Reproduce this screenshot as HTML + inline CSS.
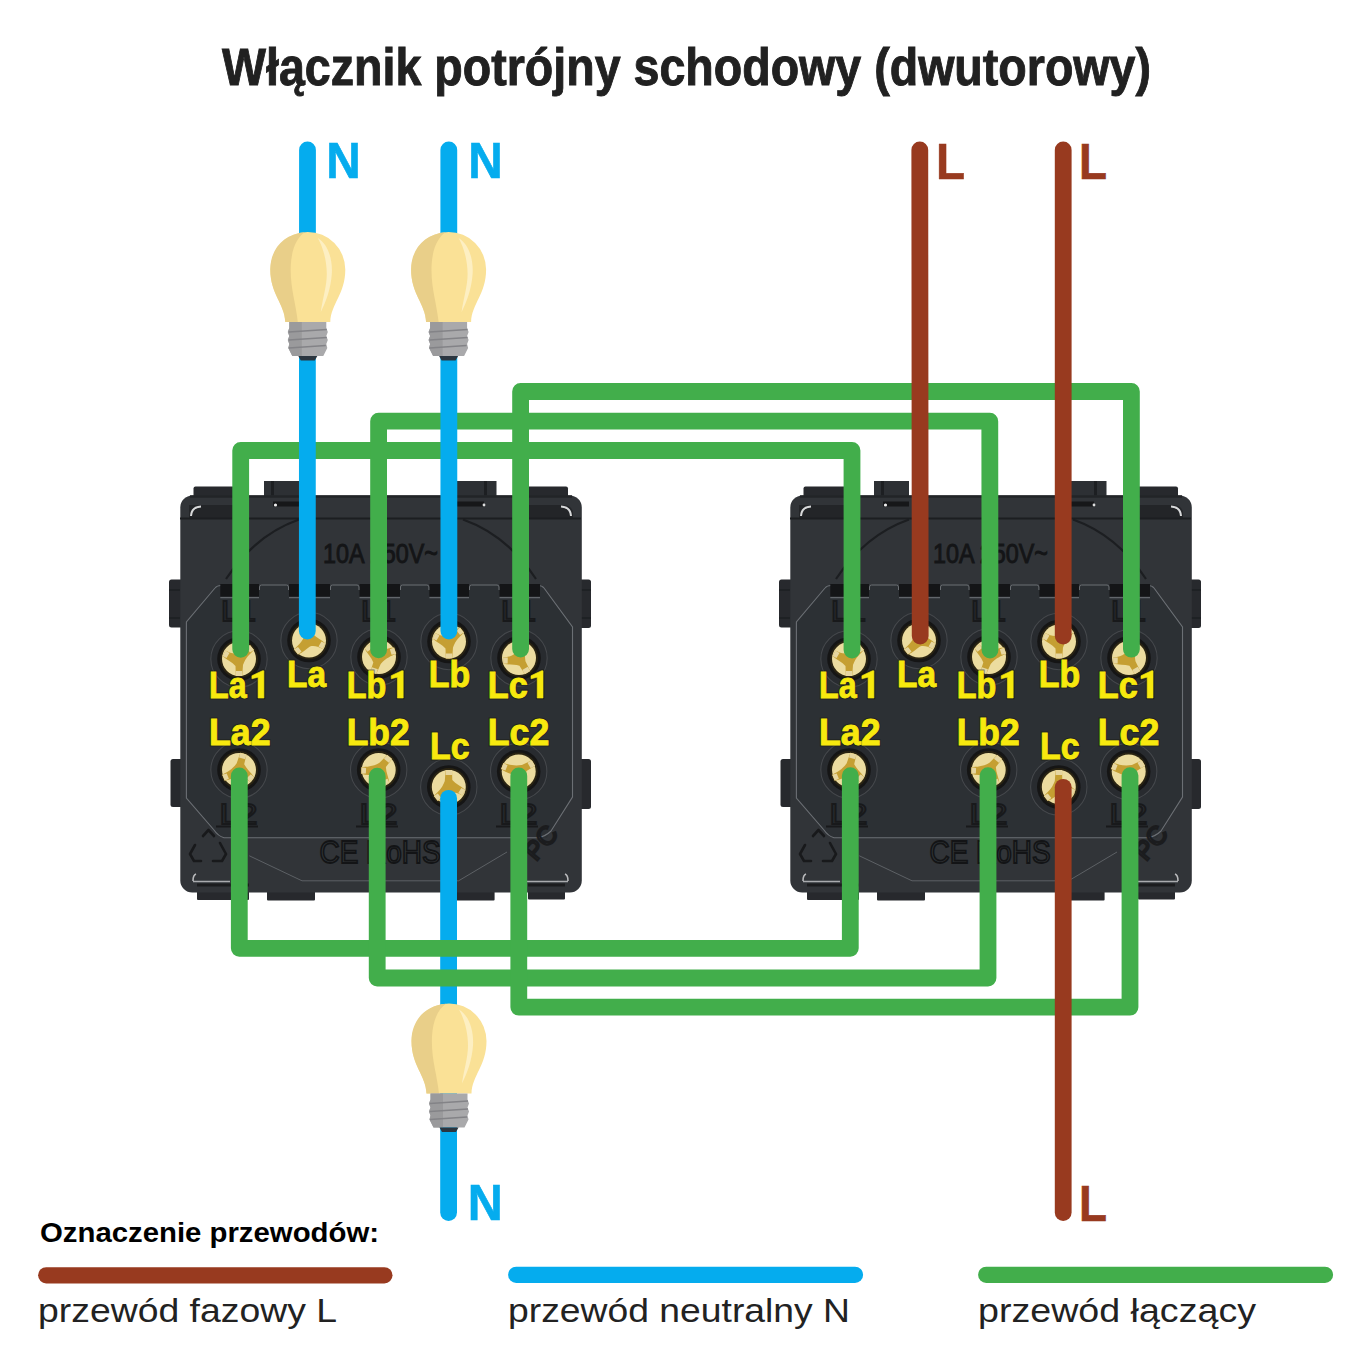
<!DOCTYPE html>
<html><head><meta charset="utf-8"><title>Włącznik potrójny schodowy</title>
<style>html,body{margin:0;padding:0;background:#fff;width:1362px;height:1362px;overflow:hidden} svg{display:block} text{font-family:"Liberation Sans",sans-serif}</style>
</head><body>
<svg width="1362" height="1362" viewBox="0 0 1362 1362"><rect width="1362" height="1362" fill="#fff"/>
<text x="222" y="84.6" font-family="Liberation Sans" font-weight="bold" font-size="51" fill="#212121" stroke="#212121" stroke-width="0.9" textLength="929" lengthAdjust="spacingAndGlyphs">Włącznik potrójny schodowy (dwutorowy)</text>
<g id="mod"><g fill="#27292d">
<rect x="193.5" y="486.5" width="50" height="14" rx="2"/>
<rect x="518" y="486.5" width="50" height="14" rx="2"/>
<rect x="169" y="579.5" width="16" height="48" rx="2.5"/>
<rect x="170.5" y="759" width="15" height="48" rx="2.5"/>
<rect x="576" y="579.5" width="15" height="48.5" rx="2.5"/>
<rect x="576" y="759" width="15" height="50" rx="2.5"/>
<rect x="197" y="880" width="52" height="20" rx="1"/>
<rect x="267" y="880" width="48" height="20.5" rx="1"/>
<rect x="456.4" y="880" width="38.2" height="20.4" rx="1"/>
<rect x="528" y="880" width="37" height="19.5" rx="1"/>
</g>
<g fill="#2d3034"><rect x="264" y="481" width="35" height="22"/><rect x="457" y="481" width="39.5" height="22"/></g>
<path d="M272.5,481 V506 M485.5,481 V506" stroke="#1d1f22" stroke-width="3"/>
<path d="M169,590 H180 M169,618 H180 M578,590 H591 M578,618 H591" stroke="#1d1f22" stroke-width="1.5"/>
<rect x="180.3" y="495.5" width="401.5" height="397" rx="12" fill="#313438"/>
<path d="M190,496.5 H572" stroke="#222427" stroke-width="2.5"/>
<path d="M189,505 H242 V518.5 H189 Z M520,505 H562 Q573,505 573,514 V518.5 H520 Z" fill="#232528"/>
<path d="M273,501.5 H299 V506.5 H273 Z M457,501.5 H484 V506.5 H457 Z" fill="#161719"/>
<path d="M180,518.5 H581" stroke="#1c1e21" stroke-width="2.2"/>
<path d="M201,506.5 Q191.5,507 191,516" stroke="#d8d9da" stroke-width="2" fill="none"/>
<path d="M561,506.5 Q570.5,507 571,516" stroke="#d8d9da" stroke-width="2" fill="none"/>
<circle cx="275.5" cy="505" r="1.6" fill="#eeeeee"/><circle cx="484" cy="505" r="1.4" fill="#dddddd"/>
<path d="M226,579 Q255,535 299,519.5 M536,579 Q507,535 463,519.5" fill="none" stroke="#1c1e21" stroke-width="2.2"/>
<path d="M186.4,622 L216,585.5 H541 L572.5,627 V795 L546.8,837.7 H221.4 L186.4,798 Z" fill="#2c3034"/>
<path d="M221,585.5 Q217,585.5 215,588 L186.4,622 V798 L214,830 Q218,836 224,837.7 H537 Q545,837 551,831 L572.5,797 V627 L544,588 Q542,585.5 538,585.5" fill="none" stroke="#80848a" stroke-width="1.1" stroke-opacity="0.75"/>
<path d="M249.3,855.8 L302,880.8 H458.6 L507,852" fill="none" stroke="#6f7378" stroke-width="1" stroke-opacity="0.7"/>
<path d="M193,881.5 H230 M527,881.5 H568" stroke="#a9abae" stroke-width="1.6"/>
<path d="M196,874 Q193,875 193,881 M565,874 Q568,875 568,881" stroke="#b8b9bb" stroke-width="1.6" fill="none"/>
<path d="M197,885 H249 M528,885 H565" stroke="#1b1c1e" stroke-width="3"/>
<rect x="220.3" y="584" width="38.69999999999999" height="12.5" fill="#141517"/>
<path d="M220.3,597.6 H259" stroke="#62666b" stroke-width="1.2"/>
<rect x="289" y="584" width="41" height="12.5" fill="#141517"/>
<path d="M289,597.6 H330" stroke="#62666b" stroke-width="1.2"/>
<rect x="359.5" y="584" width="40.5" height="12.5" fill="#141517"/>
<path d="M359.5,597.6 H400" stroke="#62666b" stroke-width="1.2"/>
<rect x="429.4" y="584" width="39.60000000000002" height="12.5" fill="#141517"/>
<path d="M429.4,597.6 H469" stroke="#62666b" stroke-width="1.2"/>
<rect x="499.5" y="584" width="40.5" height="12.5" fill="#141517"/>
<path d="M499.5,597.6 H540" stroke="#62666b" stroke-width="1.2"/>
<path d="M259.5,590 V587 Q259.5,585 261.5,585 H286.5 Q288.5,585 288.5,587 V590" fill="none" stroke="#6a6e72" stroke-width="1"/>
<path d="M330.5,590 V587 Q330.5,585 332.5,585 H357.0 Q359.0,585 359.0,587 V590" fill="none" stroke="#6a6e72" stroke-width="1"/>
<path d="M400.5,590 V587 Q400.5,585 402.5,585 H426.9 Q428.9,585 428.9,587 V590" fill="none" stroke="#6a6e72" stroke-width="1"/>
<path d="M469.5,590 V587 Q469.5,585 471.5,585 H497.0 Q499.0,585 499.0,587 V590" fill="none" stroke="#6a6e72" stroke-width="1"/>
<text x="221" y="621.3" font-family="Liberation Sans" font-size="29" fill="none" stroke="#18191b" stroke-width="1.8" textLength="35" lengthAdjust="spacingAndGlyphs">L1</text>
<text x="219.5" y="824" font-family="Liberation Sans" font-size="29" fill="none" stroke="#18191b" stroke-width="1.8" textLength="38" lengthAdjust="spacingAndGlyphs">L2</text>
<path d="M216,826.5 H258" stroke="#18191b" stroke-width="2"/>
<text x="361" y="621.3" font-family="Liberation Sans" font-size="29" fill="none" stroke="#18191b" stroke-width="1.8" textLength="35" lengthAdjust="spacingAndGlyphs">L1</text>
<text x="359.5" y="824" font-family="Liberation Sans" font-size="29" fill="none" stroke="#18191b" stroke-width="1.8" textLength="38" lengthAdjust="spacingAndGlyphs">L2</text>
<path d="M356,826.5 H398" stroke="#18191b" stroke-width="2"/>
<text x="501" y="621.3" font-family="Liberation Sans" font-size="29" fill="none" stroke="#18191b" stroke-width="1.8" textLength="35" lengthAdjust="spacingAndGlyphs">L1</text>
<text x="499.5" y="824" font-family="Liberation Sans" font-size="29" fill="none" stroke="#18191b" stroke-width="1.8" textLength="38" lengthAdjust="spacingAndGlyphs">L2</text>
<path d="M496,826.5 H538" stroke="#18191b" stroke-width="2"/>
<text x="323" y="562.5" font-family="Liberation Sans" font-size="28" fill="#141517" stroke="#141517" stroke-width="1" textLength="115" lengthAdjust="spacingAndGlyphs">10A 250V~</text>
<text x="319.5" y="862.8" font-family="Liberation Sans" font-size="32" fill="none" stroke="#131416" stroke-width="1.8" textLength="121" lengthAdjust="spacingAndGlyphs">CE RoHS</text>
<path d="M203,836 L208.5,830 L214,836 M220,843 L226,854 L222,861 H213 M201,861 H194 L190,854 L195,845" fill="none" stroke="#18191b" stroke-width="2.6" stroke-linejoin="round" stroke-linecap="round"/>
<text x="0" y="0" font-family="Liberation Sans" font-size="26" fill="none" stroke="#1b1c1e" stroke-width="2.2" transform="translate(536,862) rotate(-50)">PC</text>
<g transform="translate(239,659)">
<circle r="28.8" fill="#282b2f"/>
<circle r="28.2" fill="none" stroke="#45484c" stroke-width="1.1"/>
<circle r="21.8" fill="#151515"/>
<circle r="19" fill="#2a2412"/>
<circle r="17" fill="#ecdc9f"/>
<g transform="rotate(180)"><path d="M-3.2,-17 L3.2,-17 L3.5,-7 C7,-3 12,-1 16.5,3 L13.5,8.5 C9,6 5,5 1,6 C-2,8 -6,12 -11,14 L-15,9 C-11,5 -7,2 -4,-6 Z" fill="#c59f32"/>
<path d="M-3.2,-17 L3.2,-17 L3.2,-12 L-3.2,-12 Z M16.5,3 L13.5,8.5 L9.5,6 L12.5,1 Z M-11,14 L-15,9 L-11,6.5 L-7.5,11 Z" fill="#e6d6a0"/></g>
</g>
<g transform="translate(309,640.5)">
<circle r="28.8" fill="#282b2f"/>
<circle r="28.2" fill="none" stroke="#45484c" stroke-width="1.1"/>
<circle r="21.8" fill="#151515"/>
<circle r="19" fill="#2a2412"/>
<circle r="17" fill="#ecdc9f"/>
<g transform="rotate(0)"><path d="M-3.2,-17 L3.2,-17 L3.5,-7 C7,-3 12,-1 16.5,3 L13.5,8.5 C9,6 5,5 1,6 C-2,8 -6,12 -11,14 L-15,9 C-11,5 -7,2 -4,-6 Z" fill="#c59f32"/>
<path d="M-3.2,-17 L3.2,-17 L3.2,-12 L-3.2,-12 Z M16.5,3 L13.5,8.5 L9.5,6 L12.5,1 Z M-11,14 L-15,9 L-11,6.5 L-7.5,11 Z" fill="#e6d6a0"/></g>
</g>
<g transform="translate(379,657)">
<circle r="28.8" fill="#282b2f"/>
<circle r="28.2" fill="none" stroke="#45484c" stroke-width="1.1"/>
<circle r="21.8" fill="#151515"/>
<circle r="19" fill="#2a2412"/>
<circle r="17" fill="#ecdc9f"/>
<g transform="rotate(200)"><path d="M-3.2,-17 L3.2,-17 L3.5,-7 C7,-3 12,-1 16.5,3 L13.5,8.5 C9,6 5,5 1,6 C-2,8 -6,12 -11,14 L-15,9 C-11,5 -7,2 -4,-6 Z" fill="#c59f32"/>
<path d="M-3.2,-17 L3.2,-17 L3.2,-12 L-3.2,-12 Z M16.5,3 L13.5,8.5 L9.5,6 L12.5,1 Z M-11,14 L-15,9 L-11,6.5 L-7.5,11 Z" fill="#e6d6a0"/></g>
</g>
<g transform="translate(449,641.5)">
<circle r="28.8" fill="#282b2f"/>
<circle r="28.2" fill="none" stroke="#45484c" stroke-width="1.1"/>
<circle r="21.8" fill="#151515"/>
<circle r="19" fill="#2a2412"/>
<circle r="17" fill="#ecdc9f"/>
<g transform="rotate(180)"><path d="M-3.2,-17 L3.2,-17 L3.5,-7 C7,-3 12,-1 16.5,3 L13.5,8.5 C9,6 5,5 1,6 C-2,8 -6,12 -11,14 L-15,9 C-11,5 -7,2 -4,-6 Z" fill="#c59f32"/>
<path d="M-3.2,-17 L3.2,-17 L3.2,-12 L-3.2,-12 Z M16.5,3 L13.5,8.5 L9.5,6 L12.5,1 Z M-11,14 L-15,9 L-11,6.5 L-7.5,11 Z" fill="#e6d6a0"/></g>
</g>
<g transform="translate(519,658)">
<circle r="28.8" fill="#282b2f"/>
<circle r="28.2" fill="none" stroke="#45484c" stroke-width="1.1"/>
<circle r="21.8" fill="#151515"/>
<circle r="19" fill="#2a2412"/>
<circle r="17" fill="#ecdc9f"/>
<g transform="rotate(150)"><path d="M-3.2,-17 L3.2,-17 L3.5,-7 C7,-3 12,-1 16.5,3 L13.5,8.5 C9,6 5,5 1,6 C-2,8 -6,12 -11,14 L-15,9 C-11,5 -7,2 -4,-6 Z" fill="#c59f32"/>
<path d="M-3.2,-17 L3.2,-17 L3.2,-12 L-3.2,-12 Z M16.5,3 L13.5,8.5 L9.5,6 L12.5,1 Z M-11,14 L-15,9 L-11,6.5 L-7.5,11 Z" fill="#e6d6a0"/></g>
</g>
<g transform="translate(239,770)">
<circle r="28.8" fill="#282b2f"/>
<circle r="28.2" fill="none" stroke="#45484c" stroke-width="1.1"/>
<circle r="21.8" fill="#151515"/>
<circle r="19" fill="#2a2412"/>
<circle r="17" fill="#ecdc9f"/>
<g transform="rotate(15)"><path d="M-3.2,-17 L3.2,-17 L3.5,-7 C7,-3 12,-1 16.5,3 L13.5,8.5 C9,6 5,5 1,6 C-2,8 -6,12 -11,14 L-15,9 C-11,5 -7,2 -4,-6 Z" fill="#c59f32"/>
<path d="M-3.2,-17 L3.2,-17 L3.2,-12 L-3.2,-12 Z M16.5,3 L13.5,8.5 L9.5,6 L12.5,1 Z M-11,14 L-15,9 L-11,6.5 L-7.5,11 Z" fill="#e6d6a0"/></g>
</g>
<g transform="translate(378.7,770)">
<circle r="28.8" fill="#282b2f"/>
<circle r="28.2" fill="none" stroke="#45484c" stroke-width="1.1"/>
<circle r="21.8" fill="#151515"/>
<circle r="19" fill="#2a2412"/>
<circle r="17" fill="#ecdc9f"/>
<g transform="rotate(40)"><path d="M-3.2,-17 L3.2,-17 L3.5,-7 C7,-3 12,-1 16.5,3 L13.5,8.5 C9,6 5,5 1,6 C-2,8 -6,12 -11,14 L-15,9 C-11,5 -7,2 -4,-6 Z" fill="#c59f32"/>
<path d="M-3.2,-17 L3.2,-17 L3.2,-12 L-3.2,-12 Z M16.5,3 L13.5,8.5 L9.5,6 L12.5,1 Z M-11,14 L-15,9 L-11,6.5 L-7.5,11 Z" fill="#e6d6a0"/></g>
</g>
<g transform="translate(448.8,787)">
<circle r="28.8" fill="#282b2f"/>
<circle r="28.2" fill="none" stroke="#45484c" stroke-width="1.1"/>
<circle r="21.8" fill="#151515"/>
<circle r="19" fill="#2a2412"/>
<circle r="17" fill="#ecdc9f"/>
<g transform="rotate(0)"><path d="M-3.2,-17 L3.2,-17 L3.5,-7 C7,-3 12,-1 16.5,3 L13.5,8.5 C9,6 5,5 1,6 C-2,8 -6,12 -11,14 L-15,9 C-11,5 -7,2 -4,-6 Z" fill="#c59f32"/>
<path d="M-3.2,-17 L3.2,-17 L3.2,-12 L-3.2,-12 Z M16.5,3 L13.5,8.5 L9.5,6 L12.5,1 Z M-11,14 L-15,9 L-11,6.5 L-7.5,11 Z" fill="#e6d6a0"/></g>
</g>
<g transform="translate(518.7,771.5)">
<circle r="28.8" fill="#282b2f"/>
<circle r="28.2" fill="none" stroke="#45484c" stroke-width="1.1"/>
<circle r="21.8" fill="#151515"/>
<circle r="19" fill="#2a2412"/>
<circle r="17" fill="#ecdc9f"/>
<g transform="rotate(60)"><path d="M-3.2,-17 L3.2,-17 L3.5,-7 C7,-3 12,-1 16.5,3 L13.5,8.5 C9,6 5,5 1,6 C-2,8 -6,12 -11,14 L-15,9 C-11,5 -7,2 -4,-6 Z" fill="#c59f32"/>
<path d="M-3.2,-17 L3.2,-17 L3.2,-12 L-3.2,-12 Z M16.5,3 L13.5,8.5 L9.5,6 L12.5,1 Z M-11,14 L-15,9 L-11,6.5 L-7.5,11 Z" fill="#e6d6a0"/></g>
</g><text x="209" y="698" font-family="Liberation Sans" font-weight="bold" font-size="36" fill="#1a1a10" stroke="#1a1a10" stroke-width="3" stroke-opacity="0.55" textLength="37.5" lengthAdjust="spacingAndGlyphs">La</text><text x="209" y="698" font-family="Liberation Sans" font-weight="bold" font-size="36" fill="#f7e90e" stroke="#f7e90e" stroke-width="0.9" textLength="37.5" lengthAdjust="spacingAndGlyphs">La</text>
<text x="287" y="687" font-family="Liberation Sans" font-weight="bold" font-size="36" fill="#1a1a10" stroke="#1a1a10" stroke-width="3" stroke-opacity="0.55" textLength="39" lengthAdjust="spacingAndGlyphs">La</text><text x="287" y="687" font-family="Liberation Sans" font-weight="bold" font-size="36" fill="#f7e90e" stroke="#f7e90e" stroke-width="0.9" textLength="39" lengthAdjust="spacingAndGlyphs">La</text>
<text x="346.7" y="698" font-family="Liberation Sans" font-weight="bold" font-size="36" fill="#1a1a10" stroke="#1a1a10" stroke-width="3" stroke-opacity="0.55" textLength="39.5" lengthAdjust="spacingAndGlyphs">Lb</text><text x="346.7" y="698" font-family="Liberation Sans" font-weight="bold" font-size="36" fill="#f7e90e" stroke="#f7e90e" stroke-width="0.9" textLength="39.5" lengthAdjust="spacingAndGlyphs">Lb</text>
<text x="428.8" y="687" font-family="Liberation Sans" font-weight="bold" font-size="36" fill="#1a1a10" stroke="#1a1a10" stroke-width="3" stroke-opacity="0.55" textLength="41.5" lengthAdjust="spacingAndGlyphs">Lb</text><text x="428.8" y="687" font-family="Liberation Sans" font-weight="bold" font-size="36" fill="#f7e90e" stroke="#f7e90e" stroke-width="0.9" textLength="41.5" lengthAdjust="spacingAndGlyphs">Lb</text>
<text x="487.8" y="698" font-family="Liberation Sans" font-weight="bold" font-size="36" fill="#1a1a10" stroke="#1a1a10" stroke-width="3" stroke-opacity="0.55" textLength="40" lengthAdjust="spacingAndGlyphs">Lc</text><text x="487.8" y="698" font-family="Liberation Sans" font-weight="bold" font-size="36" fill="#f7e90e" stroke="#f7e90e" stroke-width="0.9" textLength="40" lengthAdjust="spacingAndGlyphs">Lc</text>
<text x="209" y="744.6" font-family="Liberation Sans" font-weight="bold" font-size="36" fill="#1a1a10" stroke="#1a1a10" stroke-width="3" stroke-opacity="0.55" textLength="61.5" lengthAdjust="spacingAndGlyphs">La2</text><text x="209" y="744.6" font-family="Liberation Sans" font-weight="bold" font-size="36" fill="#f7e90e" stroke="#f7e90e" stroke-width="0.9" textLength="61.5" lengthAdjust="spacingAndGlyphs">La2</text>
<text x="346.7" y="744.6" font-family="Liberation Sans" font-weight="bold" font-size="36" fill="#1a1a10" stroke="#1a1a10" stroke-width="3" stroke-opacity="0.55" textLength="63" lengthAdjust="spacingAndGlyphs">Lb2</text><text x="346.7" y="744.6" font-family="Liberation Sans" font-weight="bold" font-size="36" fill="#f7e90e" stroke="#f7e90e" stroke-width="0.9" textLength="63" lengthAdjust="spacingAndGlyphs">Lb2</text>
<text x="430" y="758.8" font-family="Liberation Sans" font-weight="bold" font-size="36" fill="#1a1a10" stroke="#1a1a10" stroke-width="3" stroke-opacity="0.55" textLength="39.5" lengthAdjust="spacingAndGlyphs">Lc</text><text x="430" y="758.8" font-family="Liberation Sans" font-weight="bold" font-size="36" fill="#f7e90e" stroke="#f7e90e" stroke-width="0.9" textLength="39.5" lengthAdjust="spacingAndGlyphs">Lc</text>
<text x="487.8" y="744.6" font-family="Liberation Sans" font-weight="bold" font-size="36" fill="#1a1a10" stroke="#1a1a10" stroke-width="3" stroke-opacity="0.55" textLength="61.5" lengthAdjust="spacingAndGlyphs">Lc2</text><text x="487.8" y="744.6" font-family="Liberation Sans" font-weight="bold" font-size="36" fill="#f7e90e" stroke="#f7e90e" stroke-width="0.9" textLength="61.5" lengthAdjust="spacingAndGlyphs">Lc2</text><path d="M263.9,670.8 V698 H258.09999999999997 V677.1999999999999 L251.89999999999998,678.8 V675.6999999999999 L262.4,670.8 Z" fill="#1a1a10" stroke="#1a1a10" stroke-width="3" stroke-opacity="0.55" stroke-linejoin="round"/><path d="M263.9,670.8 V698 H258.09999999999997 V677.1999999999999 L251.89999999999998,678.8 V675.6999999999999 L262.4,670.8 Z" fill="#f7e90e" stroke="#f7e90e" stroke-width="0.6" stroke-linejoin="round"/><path d="M403.2,670.8 V698 H397.4 V677.1999999999999 L391.2,678.8 V675.6999999999999 L401.7,670.8 Z" fill="#1a1a10" stroke="#1a1a10" stroke-width="3" stroke-opacity="0.55" stroke-linejoin="round"/><path d="M403.2,670.8 V698 H397.4 V677.1999999999999 L391.2,678.8 V675.6999999999999 L401.7,670.8 Z" fill="#f7e90e" stroke="#f7e90e" stroke-width="0.6" stroke-linejoin="round"/><path d="M543,670.8 V698 H537.2 V677.1999999999999 L531,678.8 V675.6999999999999 L541.5,670.8 Z" fill="#1a1a10" stroke="#1a1a10" stroke-width="3" stroke-opacity="0.55" stroke-linejoin="round"/><path d="M543,670.8 V698 H537.2 V677.1999999999999 L531,678.8 V675.6999999999999 L541.5,670.8 Z" fill="#f7e90e" stroke="#f7e90e" stroke-width="0.6" stroke-linejoin="round"/></g>
<use href="#mod" x="610" y="0"/>
<path d="M240.7,649.3 L240.7,450.5 L852,450.5 L852,650" fill="none" stroke="#42ae4b" stroke-width="16.8" stroke-linecap="round" stroke-linejoin="round"/>
<path d="M378.6,649.8 L378.6,421.2 L989.8,421.2 L990,650" fill="none" stroke="#42ae4b" stroke-width="16.8" stroke-linecap="round" stroke-linejoin="round"/>
<path d="M520.6,649 L520.6,391.5 L1131.4,391.5 L1131.4,649.2" fill="none" stroke="#42ae4b" stroke-width="16.8" stroke-linecap="round" stroke-linejoin="round"/>
<path d="M307.5,150 L307.3,631" fill="none" stroke="#05acee" stroke-width="16.8" stroke-linecap="round" stroke-linejoin="round"/>
<path d="M448.8,150 L448.9,631" fill="none" stroke="#05acee" stroke-width="16.8" stroke-linecap="round" stroke-linejoin="round"/>
<path d="M919.8,150 L920.2,636" fill="none" stroke="#983a1f" stroke-width="16.8" stroke-linecap="round" stroke-linejoin="round"/>
<path d="M1063.2,150 L1063.2,636" fill="none" stroke="#983a1f" stroke-width="16.8" stroke-linecap="round" stroke-linejoin="round"/>
<path d="M448.6,798.3 L448.6,1212.5" fill="none" stroke="#05acee" stroke-width="16.8" stroke-linecap="round" stroke-linejoin="round"/>
<path d="M239.3,776 L239.3,948.3 L850.3,948.3 L850.3,775.6" fill="none" stroke="#42ae4b" stroke-width="16.8" stroke-linecap="round" stroke-linejoin="round"/>
<path d="M377.2,776.2 L377.2,978 L988,978 L988,775.6" fill="none" stroke="#42ae4b" stroke-width="16.8" stroke-linecap="round" stroke-linejoin="round"/>
<path d="M518.8,776 L518.8,1007.2 L1130,1007.2 L1130,775.6" fill="none" stroke="#42ae4b" stroke-width="16.8" stroke-linecap="round" stroke-linejoin="round"/>
<path d="M1063.2,787.3 L1063.2,1212.5" fill="none" stroke="#983a1f" stroke-width="16.8" stroke-linecap="round" stroke-linejoin="round"/>
<g transform="translate(307.8,232)">
<path d="M-22.5,90 C-23,72 -37.5,62 -37.5,37.5 A37.5,37.5 0 0 1 37.5,37.5 C37.5,62 23,72 22.5,90 Z" fill="#fae196"/>
<path d="M-3,0.3 C-24,2 -37.5,17 -37.5,37.5 C-37.5,62 -23,72 -22.5,90 L-10,90 C-12,70 -18,55 -17,33 C-16,15 -10,5 -3,0.3 Z" fill="#e9cf89"/>
<path d="M10,6 C20,12 25,27 24,42 C23,57 18,70 13,80 C15,66 19,54 19,42 C19,28 15,15 10,6 Z" fill="#fdefc2"/>
<path d="M-18.5,90 L18.5,90 L18.5,96 L20,100 L18.5,104 L20,108 L18.5,112 L19.5,116 L16.5,122 L15.5,124 L-15.5,124 L-16.5,122 L-19.5,116 L-18.5,112 L-20,108 L-18.5,104 L-20,100 L-18.5,96 Z" fill="#a9a9ab"/>
<path d="M-18.5,90 L-6,90 L-6,124 L-15.5,124 L-16.5,122 L-19.5,116 L-18.5,112 L-20,108 L-18.5,104 L-20,100 L-18.5,96 Z" fill="#9a9a9c"/>
<path d="M-19,100 L19,97.5 M-19,108 L19,105.5 M-19,116 L18,113.5" stroke="#838387" stroke-width="1.6" fill="none"/>
<path d="M-9.5,124 L9.5,124 L7,128.5 L-7,128.5 Z" fill="#2b3640"/>
</g>
<g transform="translate(448.6,232)">
<path d="M-22.5,90 C-23,72 -37.5,62 -37.5,37.5 A37.5,37.5 0 0 1 37.5,37.5 C37.5,62 23,72 22.5,90 Z" fill="#fae196"/>
<path d="M-3,0.3 C-24,2 -37.5,17 -37.5,37.5 C-37.5,62 -23,72 -22.5,90 L-10,90 C-12,70 -18,55 -17,33 C-16,15 -10,5 -3,0.3 Z" fill="#e9cf89"/>
<path d="M10,6 C20,12 25,27 24,42 C23,57 18,70 13,80 C15,66 19,54 19,42 C19,28 15,15 10,6 Z" fill="#fdefc2"/>
<path d="M-18.5,90 L18.5,90 L18.5,96 L20,100 L18.5,104 L20,108 L18.5,112 L19.5,116 L16.5,122 L15.5,124 L-15.5,124 L-16.5,122 L-19.5,116 L-18.5,112 L-20,108 L-18.5,104 L-20,100 L-18.5,96 Z" fill="#a9a9ab"/>
<path d="M-18.5,90 L-6,90 L-6,124 L-15.5,124 L-16.5,122 L-19.5,116 L-18.5,112 L-20,108 L-18.5,104 L-20,100 L-18.5,96 Z" fill="#9a9a9c"/>
<path d="M-19,100 L19,97.5 M-19,108 L19,105.5 M-19,116 L18,113.5" stroke="#838387" stroke-width="1.6" fill="none"/>
<path d="M-9.5,124 L9.5,124 L7,128.5 L-7,128.5 Z" fill="#2b3640"/>
</g>
<g transform="translate(449,1003.5)">
<path d="M-22.5,90 C-23,72 -37.5,62 -37.5,37.5 A37.5,37.5 0 0 1 37.5,37.5 C37.5,62 23,72 22.5,90 Z" fill="#fae196"/>
<path d="M-3,0.3 C-24,2 -37.5,17 -37.5,37.5 C-37.5,62 -23,72 -22.5,90 L-10,90 C-12,70 -18,55 -17,33 C-16,15 -10,5 -3,0.3 Z" fill="#e9cf89"/>
<path d="M10,6 C20,12 25,27 24,42 C23,57 18,70 13,80 C15,66 19,54 19,42 C19,28 15,15 10,6 Z" fill="#fdefc2"/>
<path d="M-18.5,90 L18.5,90 L18.5,96 L20,100 L18.5,104 L20,108 L18.5,112 L19.5,116 L16.5,122 L15.5,124 L-15.5,124 L-16.5,122 L-19.5,116 L-18.5,112 L-20,108 L-18.5,104 L-20,100 L-18.5,96 Z" fill="#a9a9ab"/>
<path d="M-18.5,90 L-6,90 L-6,124 L-15.5,124 L-16.5,122 L-19.5,116 L-18.5,112 L-20,108 L-18.5,104 L-20,100 L-18.5,96 Z" fill="#9a9a9c"/>
<path d="M-19,100 L19,97.5 M-19,108 L19,105.5 M-19,116 L18,113.5" stroke="#838387" stroke-width="1.6" fill="none"/>
<path d="M-9.5,124 L9.5,124 L7,128.5 L-7,128.5 Z" fill="#2b3640"/>
</g>
<text x="326.3" y="178.2" font-family="Liberation Sans" font-weight="bold" font-size="50" fill="#05acee" stroke="#05acee" stroke-width="0.6" textLength="34.5" lengthAdjust="spacingAndGlyphs">N</text>
<text x="468.3" y="178.2" font-family="Liberation Sans" font-weight="bold" font-size="50" fill="#05acee" stroke="#05acee" stroke-width="0.6" textLength="34.5" lengthAdjust="spacingAndGlyphs">N</text>
<text x="467.7" y="1220" font-family="Liberation Sans" font-weight="bold" font-size="50" fill="#05acee" stroke="#05acee" stroke-width="0.6" textLength="35" lengthAdjust="spacingAndGlyphs">N</text>
<text x="936" y="178.8" font-family="Liberation Sans" font-weight="bold" font-size="50" fill="#983a1f" stroke="#983a1f" stroke-width="0.6" textLength="29" lengthAdjust="spacingAndGlyphs">L</text>
<text x="1079" y="178.8" font-family="Liberation Sans" font-weight="bold" font-size="50" fill="#983a1f" stroke="#983a1f" stroke-width="0.6" textLength="28" lengthAdjust="spacingAndGlyphs">L</text>
<text x="1079" y="1220.8" font-family="Liberation Sans" font-weight="bold" font-size="50" fill="#983a1f" stroke="#983a1f" stroke-width="0.6" textLength="28" lengthAdjust="spacingAndGlyphs">L</text>
<text x="40" y="1242" font-family="Liberation Sans" font-weight="bold" font-size="28" fill="#000" textLength="339" lengthAdjust="spacingAndGlyphs">Oznaczenie przewodów:</text>
<path d="M46.2,1275.3 L384.4,1275.3" fill="none" stroke="#983a1f" stroke-width="16.2" stroke-linecap="round" stroke-linejoin="round"/>
<path d="M516.2,1274.8 L855,1274.8" fill="none" stroke="#05acee" stroke-width="16.2" stroke-linecap="round" stroke-linejoin="round"/>
<path d="M986.2,1274.8 L1325,1274.8" fill="none" stroke="#42ae4b" stroke-width="16.2" stroke-linecap="round" stroke-linejoin="round"/>
<text x="38" y="1322" font-family="Liberation Sans" font-size="33" fill="#222" textLength="299" lengthAdjust="spacingAndGlyphs">przewód fazowy L</text>
<text x="508" y="1322" font-family="Liberation Sans" font-size="33" fill="#222" textLength="342" lengthAdjust="spacingAndGlyphs">przewód neutralny N</text>
<text x="978" y="1322" font-family="Liberation Sans" font-size="33" fill="#222" textLength="278" lengthAdjust="spacingAndGlyphs">przewód łączący</text></svg>
</body></html>
